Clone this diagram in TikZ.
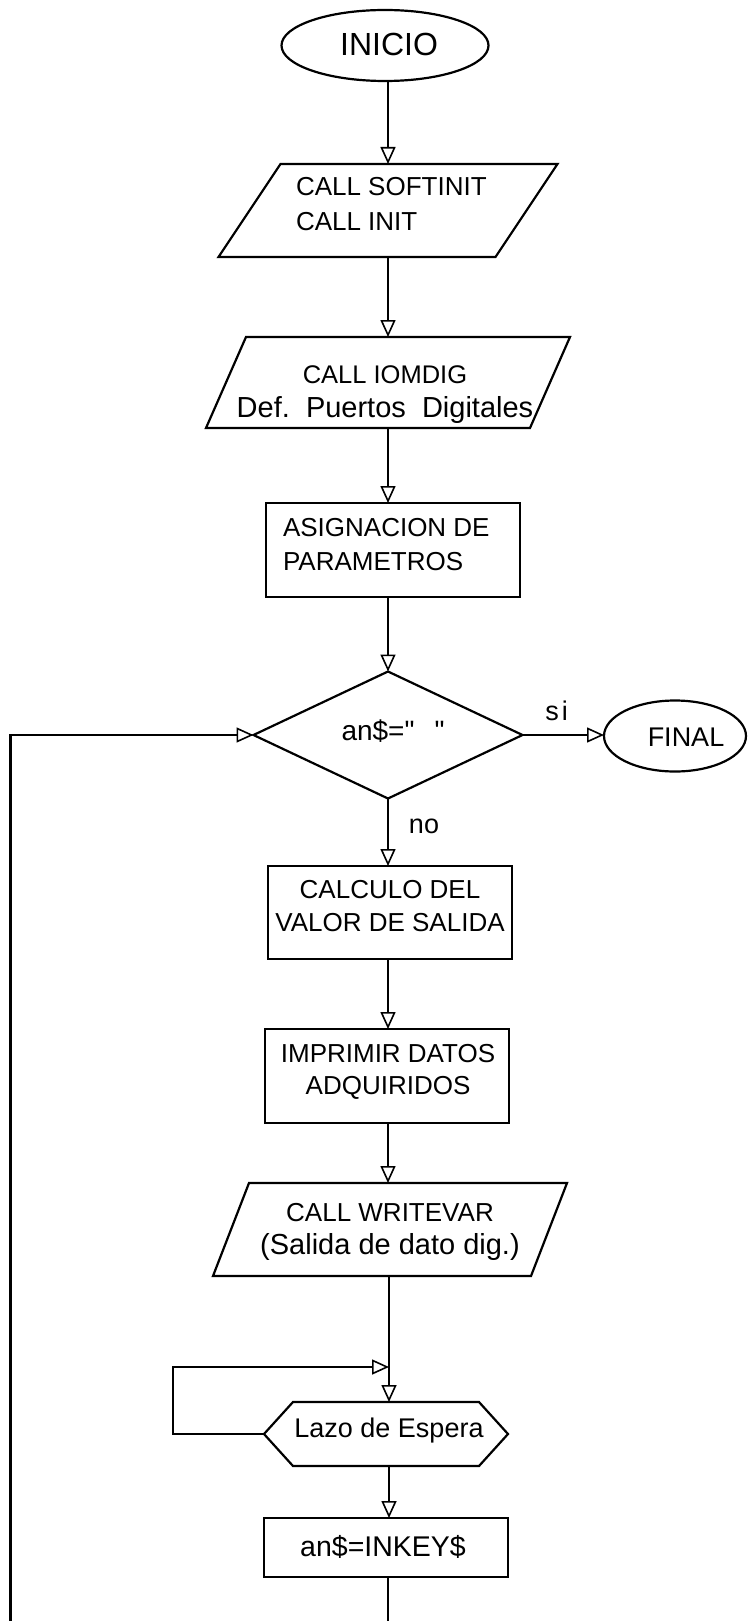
\documentclass[tikz,border=0pt]{standalone}
\usepackage{fontspec}
\setmainfont{Liberation Sans}
\usetikzlibrary{arrows.meta,shapes.geometric}

\begin{document}
\begin{tikzpicture}[x=1pt,y=-1pt,
  every node/.style={inner sep=0pt, outer sep=0pt},
  txt/.style={font=\fontsize{26}{34}\selectfont, align=center},
  txtl/.style={font=\fontsize{29}{34}\selectfont, align=center},
  border/.style={line width=2.2pt, line join=miter},
  conn/.style={line width=2pt},
  flow/.style={conn, -{Triangle[open,length=17pt,width=15pt,line width=1.6pt]}},
  box/.style={draw, border, rectangle},
  oval/.style={draw, border, ellipse},
  frame/.style={rectangle}
]
\useasboundingbox (0,0) rectangle (747,1621);

% reference points for the main axis and the loops
\coordinate (axis) at (388,0);
\coordinate (loopx) at (173,0);
\coordinate (junction) at (389,1367);
\coordinate (leftbot) at (10.5,1630);
\coordinate (bot) at (388,1630);

% start
\node[oval, minimum width=207pt, minimum height=71pt] (inicio) at (385,45.5) {};
\node[txt, font=\fontsize{32}{34}\selectfont] (iniciot) at (389,44) {INICIO};

% CALL SOFTINIT / CALL INIT
\node[frame, minimum width=277pt, minimum height=93pt] (p1) at (388,210.5) {};
\draw[border] ([xshift=31pt]p1.north west) -- ([xshift=31pt]p1.north east)
  -- ([xshift=-31pt]p1.south east) -- ([xshift=-31pt]p1.south west) -- cycle;
\node[txt, align=left, anchor=west, font=\fontsize{26}{35}\selectfont] (p1t) at (296,204.5) {CALL SOFTINIT\\CALL INIT};

% CALL IOMDIG
\node[frame, minimum width=324pt, minimum height=91pt] (p2) at (388,382.5) {};
\draw[border] ([xshift=20pt]p2.north west) -- ([xshift=20pt]p2.north east)
  -- ([xshift=-20pt]p2.south east) -- ([xshift=-20pt]p2.south west) -- cycle;
\node[txtl] (p2t) at (385,395) {{\fontsize{25.5}{34}\selectfont CALL IOMDIG}\\Def.\ \ Puertos\ \ Digitales};

% parameter assignment
\node[box, minimum width=254pt, minimum height=94pt] (asig) at (393,550) {};
\node[txt, align=left, anchor=west] (asigt) at (283,545) {ASIGNACION DE\\PARAMETROS};

% decision
\node[frame, minimum width=269pt, minimum height=127pt] (dia) at (388,735) {};
\draw[border] (dia.north) -- (dia.east) -- (dia.south) -- (dia.west) -- cycle;
\node[txtl, font=\fontsize{28}{34}\selectfont] (diat) at (393,731) {an\$=\textquotedbl\hspace{20pt}\textquotedbl};

% end
\node[oval, minimum width=142pt, minimum height=71pt] (final) at (675,736) {};
\node[txt, font=\fontsize{27}{34}\selectfont] (finalt) at (686,737) {FINAL};

% output value computation
\node[box, minimum width=244pt, minimum height=93pt] (calc) at (390,912.5) {};
\node[txt, font=\fontsize{26}{33}\selectfont] (calct) at (390,906.5) {CALCULO DEL\\VALOR DE SALIDA};

% print acquired data
\node[box, minimum width=244pt, minimum height=94pt] (impr) at (387,1076) {};
\node[txt, font=\fontsize{26}{32}\selectfont] (imprt) at (388,1072) {IMPRIMIR DATOS\\ADQUIRIDOS};

% CALL WRITEVAR
\node[frame, minimum width=318pt, minimum height=93pt] (wrv) at (390,1229.5) {};
\draw[border] ([xshift=18pt]wrv.north west) -- ([xshift=18pt]wrv.north east)
  -- ([xshift=-18pt]wrv.south east) -- ([xshift=-18pt]wrv.south west) -- cycle;
\node[txtl, font=\fontsize{29}{33}\selectfont] (wrvt) at (390,1231.5) {{\fontsize{26}{33}\selectfont CALL WRITEVAR}\\(Salida de dato dig.)};

% waiting loop
\node[frame, minimum width=244pt, minimum height=64pt] (hex) at (386,1434) {};
\draw[border] (hex.west) -- ([xshift=29pt]hex.north west) -- ([xshift=-29pt]hex.north east)
  -- (hex.east) -- ([xshift=-29pt]hex.south east) -- ([xshift=29pt]hex.south west) -- cycle;
\node[txt, font=\fontsize{27}{34}\selectfont] (hext) at (389,1431) {Lazo de Espera};

% key read
\node[box, minimum width=244pt, minimum height=59pt] (inkey) at (386,1547.5) {};
\node[txt, font=\fontsize{28.5}{34}\selectfont] (inkeyt) at (383,1547) {an\$=INKEY\$};

% connectors
\draw[flow] (inicio.south -| axis) -- (p1.north -| axis);
\draw[flow] (p1.south -| axis) -- (p2.north -| axis);
\draw[flow] (p2.south -| axis) -- (asig.north -| axis);
\draw[flow] (asig.south -| axis) -- (dia.north);
\draw[flow] (dia.east) -- (dia.east -| final.west)
  node[pos=0.42, above=14pt, font=\fontsize{27}{34}\selectfont] (si) {s\hspace{3pt}i};
\draw[flow] (dia.south) -- (calc.north -| axis);
\node[font=\fontsize{27}{34}\selectfont] (no) at (424,826) {no};
\draw[flow] (calc.south -| axis) -- (impr.north -| axis);
\draw[flow] (impr.south -| axis) -- (wrv.north -| axis);
\draw[conn] (wrv.south -| junction) -- (junction);
\draw[flow] (junction) -- (junction |- hex.north);
\draw[flow] (hex.west) -- (hex.west -| loopx) -- (junction -| loopx) -- (junction);
\draw[flow] (hex.south -| junction) -- (inkey.north -| junction);
\draw[conn] (inkey.south -| axis) -- (bot);
\draw[flow, line width=2.4pt] (leftbot) -- (leftbot |- dia.west) -- (dia.west);
\end{tikzpicture}
\end{document}
